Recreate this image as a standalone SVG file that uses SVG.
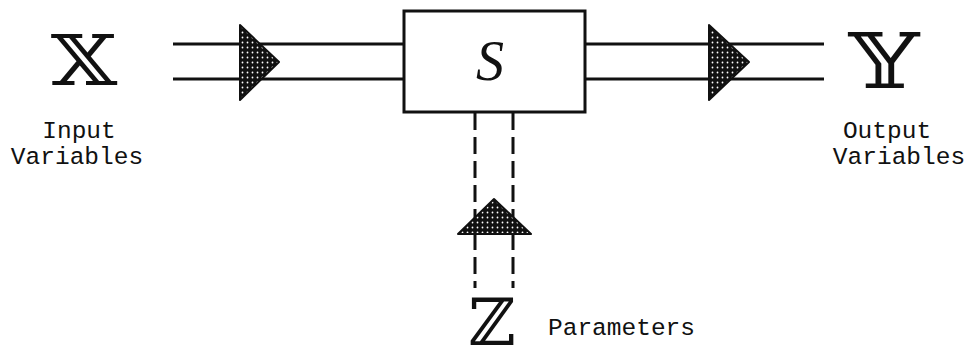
<svg xmlns="http://www.w3.org/2000/svg" width="965" height="350" viewBox="0 0 965 350">
<defs>
<pattern id="stip" width="5" height="5" patternUnits="userSpaceOnUse">
<rect width="5" height="5" fill="#111"/>
<circle cx="2.5" cy="2.5" r="0.9" fill="#fff"/>
</pattern>
<style>
.ln{stroke:#111;stroke-width:3;fill:none}
.dash{stroke:#111;stroke-width:3;fill:none;stroke-dasharray:17 7}
.tri{fill:url(#stip);stroke:#111;stroke-width:2;stroke-linejoin:round}
.lbl{font-family:"Liberation Mono","DejaVu Sans Mono",monospace;font-size:24.5px;fill:#111}
.ds{font-family:"DejaVu Serif","DejaVu Sans",serif;fill:#111}
</style>
</defs>
<rect width="965" height="350" fill="#fff"/>
<g id="connectors">
<line class="ln" x1="173" y1="44" x2="404" y2="44"/>
<line class="ln" x1="173" y1="79" x2="404" y2="79"/>
<line class="ln" x1="585" y1="44" x2="824" y2="44"/>
<line class="ln" x1="585" y1="79" x2="824" y2="79"/>
<line class="dash" x1="475" y1="113" x2="475" y2="288"/>
<line class="dash" x1="513" y1="113" x2="513" y2="288"/>
<polygon class="tri" points="240,25 279,62 240,100"/>
<polygon class="tri" points="709,25 749,62 709,100"/>
<polygon class="tri" points="458,234 494,199 531,234"/>
</g>
<g id="S">
<rect x="404" y="11" width="181" height="101" fill="#fff" stroke="#111" stroke-width="3"/>
<text x="490" y="80" text-anchor="middle" font-family="Liberation Serif,serif" font-style="italic" font-size="56" fill="#111">S</text>
</g>
<g id="X">
<text class="ds" transform="translate(84,85) scale(1.3,1.06)" text-anchor="middle" font-size="66">𝕏</text>
<text class="lbl" x="79" y="138" text-anchor="middle">Input</text>
<text class="lbl" x="77" y="164" text-anchor="middle">Variables</text>
</g>
<g id="Y">
<text class="ds" transform="translate(884,88) scale(1.5,1.15)" text-anchor="middle" font-size="66">𝕐</text>
<text class="lbl" x="887" y="138" text-anchor="middle">Output</text>
<text class="lbl" x="899" y="164" text-anchor="middle">Variables</text>
</g>
<g id="Z">
<text class="ds" x="492" y="345" text-anchor="middle" font-size="65">ℤ</text>
<text class="lbl" x="548" y="335">Parameters</text>
</g>
</svg>
